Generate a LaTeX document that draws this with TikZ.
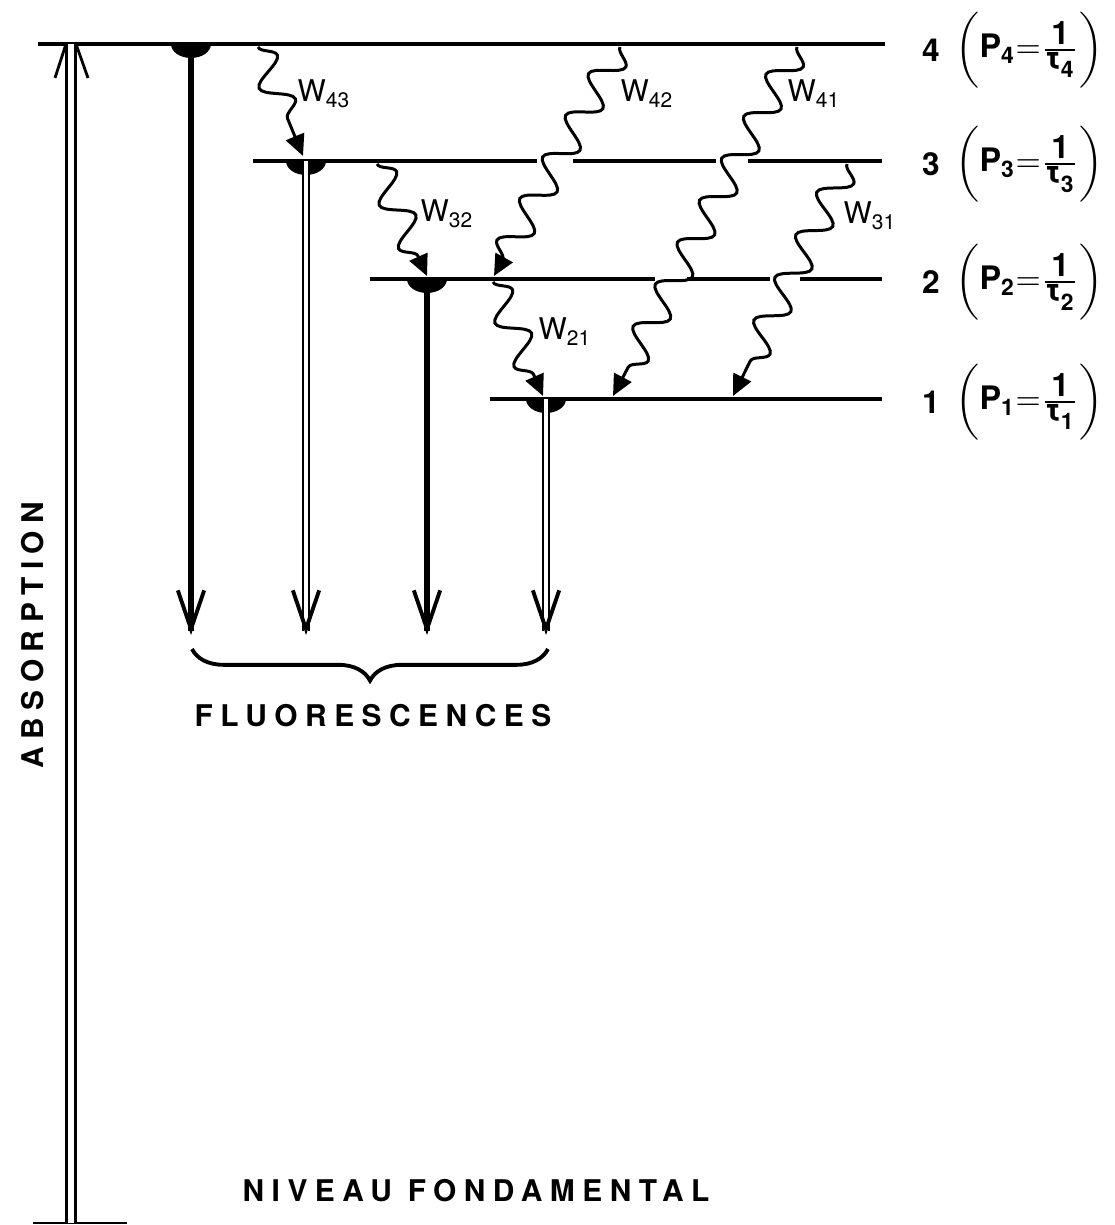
\documentclass[tikz,border=0pt]{standalone}
\usepackage{amsmath}
\usepackage{fontspec}
\setmainfont{TeX Gyre Heros}
\newfontfamily\spacedfont[LetterSpace=25]{TeX Gyre Heros}
\usetikzlibrary{arrows.meta,decorations.pathmorphing,decorations.pathreplacing,calc}
\tikzset{
  level/.style={line width=1pt},
  fluo/.style={line width=1.6pt},
  fluodbl/.style={double,double distance=1.2pt,line width=0.6pt},
  fluotip/.style={-{Straight Barb[length=11pt,width=7.5pt,line width=1.1pt]}},
  absorb/.style={double,double distance=1.9pt,line width=0.7pt},
  wave/.style={line width=0.85pt,decorate,decoration={snake,amplitude=4.2pt,segment length=13.5pt,post length=5pt},-{Triangle[length=6pt,width=5.5pt]}},
  wlabel/.style={anchor=base west,inner sep=0pt,font=\fontsize{8.5}{9}\selectfont},
  lvlnum/.style={inner sep=0pt,font=\bfseries\fontsize{9}{10}\selectfont},
  formula/.style={anchor=west,inner sep=0pt,font=\bfseries\fontsize{9.2}{9.2}\selectfont},
  caption/.style={inner sep=0pt,font=\bfseries\spacedfont\fontsize{8.5}{10}\selectfont},
}
\newcommand\halfdot[1]{\fill ($(#1)+(-20,0)$) arc[start angle=180,end angle=0,x radius=20,y radius=14] -- cycle;}
\newcommand\sub[1]{\mbox{\fontsize{6.5}{6.5}\selectfont#1}}

\begin{document}
\begin{tikzpicture}[x=0.01cm,y=-0.01cm]
  \useasboundingbox (0,0) rectangle (1114,1225);
  % levels
  \draw[level] (38,44) coordinate (l4a) -- (885,44) coordinate (l4b);
  \draw[level] (253,161) coordinate (l3a) -- (537,161);
  \draw[level] (573,161) -- (716,161);
  \draw[level] (748,161) -- (882,161) coordinate (l3b);
  \draw[level] (370,279) coordinate (l2a) -- (655,279);
  \draw[level] (687,279) -- (770,279);
  \draw[level] (800,279) -- (882,279) coordinate (l2b);
  \draw[level] (490,399) coordinate (l1a) -- (882,399) coordinate (l1b);
  \draw[line width=0.6pt] (33,1223) coordinate (l0a) -- (127,1223) coordinate (l0b);
  % absorption
  \coordinate (g) at (71,1223);
  \coordinate (a) at (71,44);
  \draw[absorb] (g) -- (a);
  \draw[line width=0.8pt] ($(a)+(-5,0)$) -- ($(a)+(-16,34)$);
  \draw[line width=0.8pt] ($(a)+(5,0)$) -- ($(a)+(17,34)$);
  \node[caption,rotate=90] (abs) at (33,635) {ABSORPTION};
  % fluorescences
  \foreach \i/\x/\y in {4/191/44,3/306/161,2/427/279,1/546/399}{
    \coordinate (s\i) at (\x,\y);
    \coordinate (t\i) at (\x,635);
    \halfdot{s\i}
  }
  \draw[fluo] (s4) -- ($(t4)+(0,-4)$);
  \draw[fluodbl] (s3) -- ($(t3)+(0,-4)$);
  \draw[fluo] (s2) -- ($(t2)+(0,-4)$);
  \draw[fluodbl] (s1) -- ($(t1)+(0,-4)$);
  \foreach \i in {4,3,2,1}
    \draw[fluotip] ($(t\i)+(0,-3)$) -- (t\i);
  \coordinate (b1) at (192,649);
  \coordinate (b2) at (548,649);
  \draw[decorate,decoration={brace,mirror,amplitude=9pt},line width=1.1pt] (b1) -- (b2);
  \node[caption] (fluo) at (373,716) {FLUORESCENCES};
  \node[caption] (fond) at (476,1191) {NIVEAU FONDAMENTAL};
  % non radiative transitions
  \coordinate (s43) at (258,47);  \coordinate (e43) at (303,156);
  \coordinate (s42) at (620,47);  \coordinate (e42) at (494,276);
  \coordinate (s41) at (797,47);  \coordinate (e41) at (613,396);
  \coordinate (s32) at (377,164); \coordinate (e32) at (427,276);
  \coordinate (s31) at (847,164); \coordinate (e31) at (733,396);
  \coordinate (s21) at (493,282); \coordinate (e21) at (543,396);
  \foreach \w in {43,42,41,32,31,21}
    \draw[wave] (s\w) -- (e\w);
  \foreach \w/\x/\y in {43/297/102,42/620/102,41/787/102,32/420/222,31/843/224,21/538/340}
    \node[wlabel] (lw\w) at (\x,\y) {W$_{\text{\w}}$};
  % level labels
  \foreach \n/\y in {4/50,3/164,2/282,1/402}{
    \node[lvlnum] (n\n) at (931,\y) {\n};
    \node[formula] (p\n) at (955,\y) {\(\biggl(\mbox{P}_{\sub{\n}}{=}\tfrac{\mbox{1}}{\mbox{τ}_{\sub{\n}}}\biggr)\)};
  }
\end{tikzpicture}
\end{document}
